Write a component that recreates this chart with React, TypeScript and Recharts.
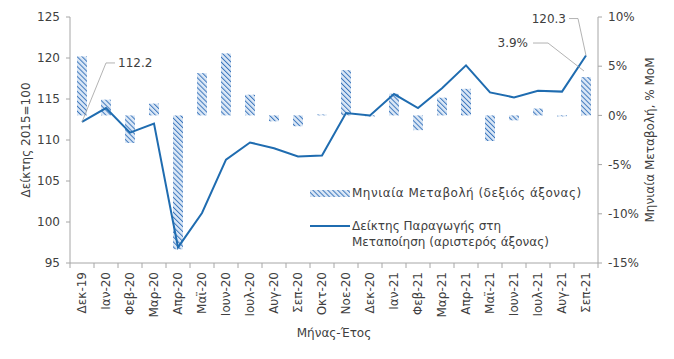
import React from "react";
import {
  Bar,
  ComposedChart,
  Label,
  Line,
  XAxis,
  YAxis,
} from "recharts";

const W = 674;
const H = 359;
const M_TOP = 17;
const LEFT_AXIS_W = 70;
const RIGHT_AXIS_W = 76;
const AXIS = "#a6a6a6";
const TEXT = "#404040";
const LINE_BLUE = "#1f6cb0";
const STRIPE = "#3d77bd";
const FONT = "'DejaVu Sans', sans-serif";

const months = [
  "Δεκ-19", "Ιαν-20", "Φεβ-20", "Μαρ-20", "Απρ-20", "Μαϊ-20", "Ιουν-20", "Ιουλ-20",
  "Αυγ-20", "Σεπ-20", "Οκτ-20", "Νοε-20", "Δεκ-20", "Ιαν-21", "Φεβ-21", "Μαρ-21",
  "Απρ-21", "Μαϊ-21", "Ιουν-21", "Ιουλ-21", "Αυγ-21", "Σεπ-21",
];

// Δείκτης Παραγωγής στη Μεταποίηση (2015=100)
const indexValues = [
  112.2, 113.9, 110.9, 112.0, 96.9, 101.1, 107.6, 109.7, 109.0, 108.0, 108.1,
  113.3, 113.0, 115.6, 113.9, 116.3, 119.1, 115.8, 115.2, 116.0, 115.9, 120.3,
];

// Μηνιαία Μεταβολή, % MoM
const momValues = [
  6.0, 1.6, -2.8, 1.2, -13.6, 4.3, 6.3, 2.1, -0.6, -1.1, 0.1,
  4.6, -0.1, 2.2, -1.5, 1.8, 2.7, -2.6, -0.5, 0.7, -0.1, 3.9,
];

const leftTicks = [95, 100, 105, 110, 115, 120, 125];
const rightTicks = [-15, -10, -5, 0, 5, 10];

const data = months.map((m, i) => ({ m, idx: indexValues[i], mom: momValues[i] }));

const BAND = (W - LEFT_AXIS_W - RIGHT_AXIS_W) / months.length;
const LAST = months.length - 1;

function XTick(props: any) {
  const { x, y, payload, index } = props;
  const half = BAND / 2;
  return (
    <g>
      <line x1={x - half} y1={y} x2={x - half} y2={y + 5} stroke={AXIS} />
      {index === LAST ? (
        <line x1={x + half} y1={y} x2={x + half} y2={y + 5} stroke={AXIS} />
      ) : null}
      <text
        transform={`translate(${x},${y + 9}) rotate(-90)`}
        textAnchor="end"
        dy="0.35em"
        fill={TEXT}
        fontSize={12}
        fontFamily={FONT}
      >
        {payload.value}
      </text>
    </g>
  );
}

function lineLabel(props: any) {
  const { x, y, index, value } = props;
  if (index === 0) {
    return (
      <g key="l0">
        <polyline
          points={`${x},${y} ${x + 24},${y - 59} ${x + 33},${y - 59}`}
          fill="none"
          stroke="#a0a0a0"
          strokeWidth={0.8}
        />
        <text x={x + 36} y={y - 59} dy="0.35em" fontSize={12} fill={TEXT} fontFamily={FONT}>
          {value}
        </text>
      </g>
    );
  }
  if (index === LAST) {
    return (
      <g key="llast">
        <polyline
          points={`${x},${y} ${x - 8},${y - 37} ${x - 17},${y - 37}`}
          fill="none"
          stroke="#a0a0a0"
          strokeWidth={0.8}
        />
        <text x={x - 20} y={y - 37} dy="0.35em" textAnchor="end" fontSize={12} fill={TEXT} fontFamily={FONT}>
          {value.toFixed(1)}
        </text>
      </g>
    );
  }
  return null;
}

function barLabel(props: any) {
  const { x, y, width, index, value } = props;
  if (index !== LAST) return null;
  const cx = x + width / 2;
  return (
    <g key="blast">
      <polyline
        points={`${cx - 2},${y - 6} ${cx - 38},${y - 34} ${cx - 53},${y - 34}`}
        fill="none"
        stroke="#a0a0a0"
        strokeWidth={0.8}
      />
      <text x={cx - 58} y={y - 34} dy="0.35em" textAnchor="end" fontSize={12} fill={TEXT} fontFamily={FONT}>
        {value.toFixed(1)}%
      </text>
    </g>
  );
}

function LegendBox() {
  return (
    <svg width={320} height={70} style={{ overflow: "visible", display: "block" }}>
      <rect x={0} y={7} width={40} height={7} fill="url(#hatch)" />
      <text x={42} y={10} dy="0.35em" fontSize={12} fill={TEXT} fontFamily={FONT} letterSpacing={0.5}>
        Μηνιαία Μεταβολή (δεξιός άξονας)
      </text>
      <line x1={0} x2={40} y1={43} y2={43} stroke={LINE_BLUE} strokeWidth={2} />
      <text x={42} y={43} dy="0.35em" fontSize={12} fill={TEXT} fontFamily={FONT}>
        Δείκτης Παραγωγής στη
      </text>
      <text x={42} y={59} dy="0.35em" fontSize={12} fill={TEXT} fontFamily={FONT}>
        Μεταποίηση (αριστερός άξονας)
      </text>
    </svg>
  );
}

export default function App() {
  return (
    <div style={{ position: "absolute", left: 0, top: 0, width: W, height: H, background: "#fff" }}>
      <ComposedChart
        width={W}
        height={H}
        data={data}
        margin={{ top: M_TOP, right: 0, left: 0, bottom: 16 }}
        style={{ fontFamily: FONT }}
      >
        <defs>
          <pattern
            id="hatch"
            width="3.5"
            height="3.5"
            patternUnits="userSpaceOnUse"
            patternTransform="rotate(-45)"
          >
            <rect width="3.5" height="3.5" fill="#dce8f6" />
            <line x1="0" y1="0" x2="0" y2="3.5" stroke={STRIPE} strokeWidth="2" />
          </pattern>
        </defs>
        <XAxis
          dataKey="m"
          interval={0}
          height={80}
          tickLine={false}
          tickSize={0}
          tickMargin={0}
          tick={<XTick />}
          stroke={AXIS}
        >
          <Label
            value="Μήνας-Έτος"
            position="insideBottom"
            offset={6}
            fill={TEXT}
            style={{ fontSize: 12, fontFamily: FONT }}
          />
        </XAxis>
        <YAxis
          yAxisId="left"
          domain={[95, 125]}
          ticks={leftTicks}
          width={LEFT_AXIS_W}
          tickSize={4}
          tickMargin={6}
          stroke={AXIS}
          tick={{ fill: TEXT, fontSize: 12, fontFamily: FONT }}
          allowDataOverflow
        >
          <Label
            value="Δείκτης 2015=100"
            angle={-90}
            position="insideLeft"
            offset={26}
            fill={TEXT}
            style={{ fontSize: 12, fontFamily: FONT, textAnchor: "middle" }}
          />
        </YAxis>
        <YAxis
          yAxisId="right"
          orientation="right"
          domain={[-15, 10]}
          ticks={rightTicks}
          width={RIGHT_AXIS_W}
          tickSize={4}
          tickMargin={6}
          stroke={AXIS}
          tickFormatter={(v: number) => `${v}%`}
          tick={{ fill: TEXT, fontSize: 12, fontFamily: FONT }}
        >
          <Label
            value="Μηνιαία Μεταβολή, % MoM"
            angle={-90}
            position="insideRight"
            offset={24}
            fill={TEXT}
            style={{ fontSize: 12, fontFamily: FONT, textAnchor: "middle" }}
          />
        </YAxis>
        <Bar
          yAxisId="right"
          dataKey="mom"
          barSize={10}
          fill="url(#hatch)"
          isAnimationActive={false}
          label={barLabel}
        />
        <Line
          yAxisId="left"
          dataKey="idx"
          type="linear"
          stroke={LINE_BLUE}
          strokeWidth={2}
          dot={false}
          activeDot={false}
          isAnimationActive={false}
          label={lineLabel}
        />
      </ComposedChart>
      <div style={{ position: "absolute", left: 310, top: 183 }}>
        <LegendBox />
      </div>
    </div>
  );
}
